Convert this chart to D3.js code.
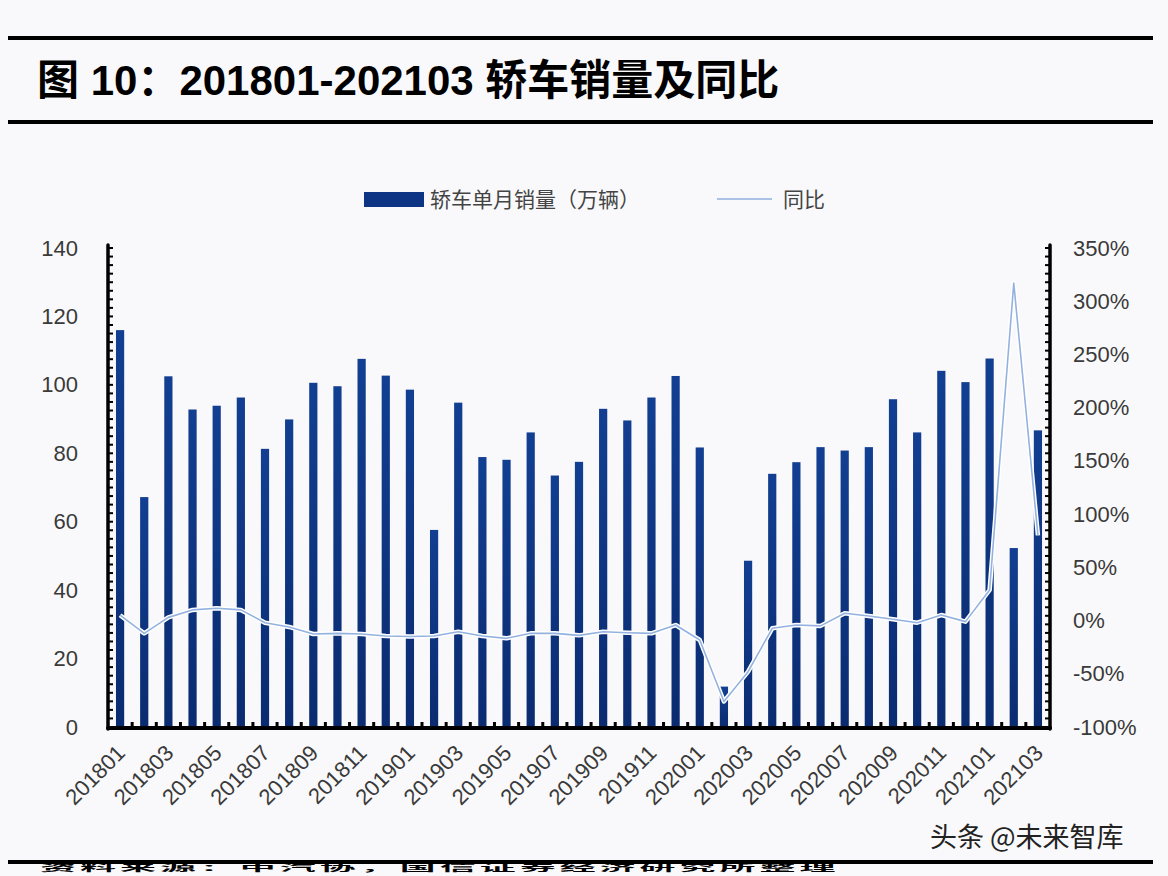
<!DOCTYPE html>
<html><head><meta charset="utf-8">
<script src="https://cdn.jsdelivr.net/npm/d3@7"></script>
<style>
html,body{margin:0;padding:0;background:#f9f9fb;}
svg{display:block;}
</style></head><body>
<svg id="chart" width="1168" height="876"></svg>
<script>
const months = ["201801","201802","201803","201804","201805","201806","201807","201808","201809","201810","201811","201812",
"201901","201902","201903","201904","201905","201906","201907","201908","201909","201910","201911","201912",
"202001","202002","202003","202004","202005","202006","202007","202008","202009","202010","202011","202012",
"202101","202102","202103"];
const sales = [116, 67.2, 102.5, 92.8, 93.9, 96.3, 81.3, 89.9, 100.6, 99.6, 107.6, 102.7,
98.6, 57.6, 94.8, 78.9, 78.1, 86.1, 73.5, 77.5, 93.0, 89.6, 96.3, 102.6,
81.7, 11.8, 48.6, 74.0, 77.4, 81.8, 80.8, 81.8, 95.8, 86.1, 104.1, 100.8,
107.7, 52.3, 86.7];
const yoy = [5, -12, 3, 10, 11.5, 10, -2, -6, -12.6, -12, -12.6, -14.5,
-15, -14.5, -10.5, -14.5, -16.7, -12, -12, -13.9, -10.5, -11.4, -12, -4.2,
-18.3, -76, -48, -7.3, -4.2, -5, 6.8, 4.3, 1.2, -2, 5.2, -1,
28.7, 317, 80];
const leftTicks = [0,20,40,60,80,100,120,140];
const rightTicks = [-100,-50,0,50,100,150,200,250,300,350];
const xLabels = ["201801","201803","201805","201807","201809","201811","201901","201903","201905","201907","201909","201911","202001","202003","202005","202007","202009","202011","202101","202103"];
const titleText = "图 10：201801-202103 轿车销量及同比";
const legendBar = "轿车单月销量（万辆）";
const legendLine = "同比";
const sourceText = "资料来源：中汽协，国信证券经济研究所整理";
const watermark = "头条 @未来智库";

const svg = d3.select("#chart");
const W = 1168, H = 876;
const L = 108, R = 1050, T = 248, B = 727;
const FONT = "'Liberation Sans', 'Noto Sans CJK SC', Arial, sans-serif";

svg.append("rect").attr("width", W).attr("height", H).attr("fill", "#f9f9fb");

// header rules
svg.append("line").attr("x1", 8).attr("x2", 1153).attr("y1", 38).attr("y2", 38).attr("stroke", "#000").attr("stroke-width", 4);
svg.append("line").attr("x1", 8).attr("x2", 1153).attr("y1", 122).attr("y2", 122).attr("stroke", "#000").attr("stroke-width", 4);
svg.append("line").attr("x1", 8).attr("x2", 1153).attr("y1", 862).attr("y2", 862).attr("stroke", "#000").attr("stroke-width", 4);

svg.append("text").attr("x", 37).attr("y", 95).attr("font-family", FONT).attr("font-weight", 700)
  .attr("font-size", 42).attr("fill", "#000").text(titleText);

// source line (squeezed so it fits under the bottom rule)
svg.append("text").attr("transform", "translate(40,871) scale(1,0.25)")
  .attr("font-family", "'Noto Sans CJK SC', sans-serif").attr("font-weight", 700)
  .attr("font-size", 36).attr("letter-spacing", 4).attr("fill", "#000").text(sourceText);

svg.append("text").attr("x", 930).attr("y", 847).attr("font-family", "'Noto Sans CJK SC', sans-serif")
  .attr("font-size", 27).attr("fill", "#222").text(watermark);

// scales
const x = d3.scaleBand().domain(months).range([L, R]).paddingInner(0.66).paddingOuter(0.33);
const yL = d3.scaleLinear().domain([0, 140]).range([B, T]);
const yR = d3.scaleLinear().domain([-100, 350]).range([B, T]);

// gradient for bars
const defs = svg.append("defs");
const g = defs.append("linearGradient").attr("id", "barGrad").attr("x1", 0).attr("y1", 0).attr("x2", 0).attr("y2", 1);
g.append("stop").attr("offset", "0%").attr("stop-color", "#123f92");
g.append("stop").attr("offset", "100%").attr("stop-color", "#0a2b70");

// bars
svg.append("g").selectAll("rect").data(months).join("rect")
  .attr("x", (d) => x(d))
  .attr("width", x.bandwidth())
  .attr("y", (d, i) => yL(sales[i]))
  .attr("height", (d, i) => yL(0) - yL(sales[i]))
  .attr("fill", "url(#barGrad)");

// yoy line
const line = d3.line().x((d, i) => x(months[i]) + x.bandwidth() / 2).y((d) => yR(d));
svg.append("path").datum(yoy).attr("d", line).attr("fill", "none").attr("stroke", "#ffffff").attr("stroke-width", 4.5).attr("stroke-linejoin", "round");
svg.append("path").datum(yoy).attr("d", line).attr("fill", "none").attr("stroke", "#94b2df").attr("stroke-width", 1.6).attr("stroke-linejoin", "round");

// axes
const axL = d3.axisLeft(yL).tickValues(leftTicks).tickSize(0).tickPadding(30).tickFormat(d3.format("d"));
const gL = svg.append("g").attr("transform", `translate(${L},0)`).call(axL);
const axR = d3.axisRight(yR).tickValues(rightTicks).tickSize(0).tickPadding(23).tickFormat((d) => d + "%");
const gR = svg.append("g").attr("transform", `translate(${R},0)`).call(axR);
[gL, gR].forEach((gg) => {
  gg.select(".domain").remove();
  gg.selectAll("text").attr("font-family", FONT).attr("font-size", 22).attr("fill", "#3a3a3a");
});

// minor ticks (inward)
const minorL = d3.range(0, 141, 2.5);
svg.append("g").selectAll("line").data(minorL).join("line")
  .attr("x1", L).attr("x2", L + 5).attr("y1", (d) => yL(d)).attr("y2", (d) => yL(d))
  .attr("stroke", "#000").attr("stroke-width", 2);
svg.append("g").selectAll("line").data(minorL).join("line")
  .attr("x1", R - 5).attr("x2", R).attr("y1", (d) => yL(d)).attr("y2", (d) => yL(d))
  .attr("stroke", "#000").attr("stroke-width", 2);

// axis lines
svg.append("line").attr("x1", L).attr("x2", L).attr("y1", T - 3).attr("y2", B + 2).attr("stroke", "#000").attr("stroke-width", 3.5).attr("stroke-linecap", "round");
svg.append("line").attr("x1", R).attr("x2", R).attr("y1", T - 3).attr("y2", B + 2).attr("stroke", "#000").attr("stroke-width", 3.5).attr("stroke-linecap", "round");
svg.append("line").attr("x1", L).attr("x2", R).attr("y1", B + 1).attr("y2", B + 1).attr("stroke", "#000").attr("stroke-width", 4).attr("stroke-linecap", "round");

// bottom ticks between categories
const step = x.step();
svg.append("g").selectAll("line").data(months.slice(1)).join("line")
  .attr("x1", (d) => x(d) - step * 0.5 + x.bandwidth() / 2)
  .attr("x2", (d) => x(d) - step * 0.5 + x.bandwidth() / 2)
  .attr("y1", B - 5).attr("y2", B + 1).attr("stroke", "#000").attr("stroke-width", 3);

// x labels
const xa = d3.axisBottom(x).tickValues(xLabels).tickSize(0).tickPadding(0);
const gX = svg.append("g").attr("transform", `translate(0,${B})`).call(xa);
gX.select(".domain").remove();
gX.selectAll("text")
  .attr("font-family", FONT).attr("font-size", 22).attr("fill", "#3a3a3a")
  .attr("text-anchor", "end")
  .attr("dy", "0.35em")
  .attr("transform", "translate(1,22) rotate(-45)");

// legend
svg.append("rect").attr("x", 364).attr("y", 192).attr("width", 60).attr("height", 15).attr("fill", "#0e3484");
svg.append("text").attr("x", 430).attr("y", 207).attr("font-family", "'Noto Sans CJK SC', sans-serif").attr("font-size", 21).attr("fill", "#444").text(legendBar);
svg.append("line").attr("x1", 717).attr("x2", 772).attr("y1", 199).attr("y2", 199).attr("stroke", "#a9c2e6").attr("stroke-width", 2);
svg.append("text").attr("x", 783).attr("y", 207).attr("font-family", "'Noto Sans CJK SC', sans-serif").attr("font-size", 21).attr("fill", "#444").text(legendLine);
</script>
</body></html>
